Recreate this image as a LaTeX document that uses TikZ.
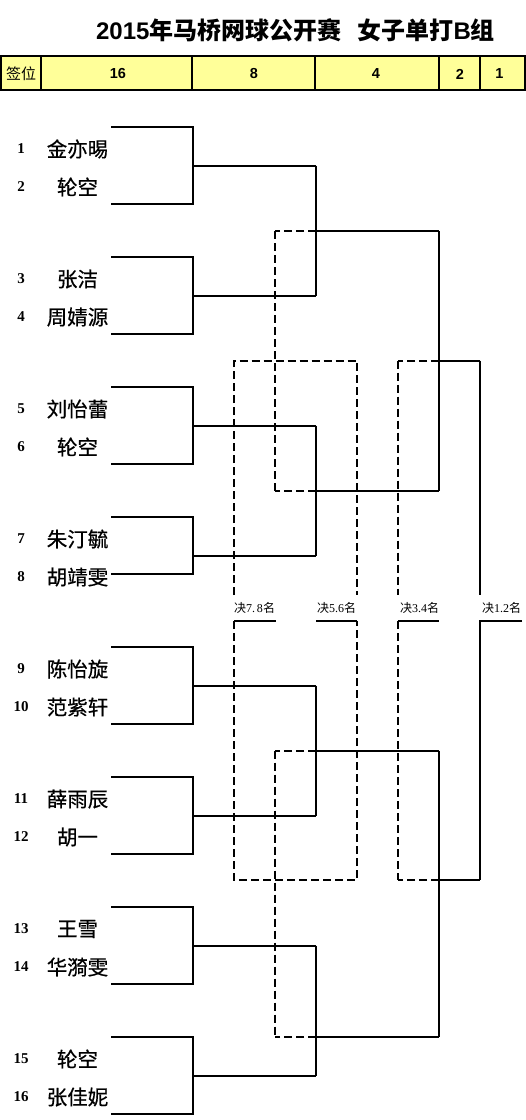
\documentclass[tikz,border=0pt]{standalone}
\usepackage{fontspec}
\setmainfont{Liberation Serif}
\newfontfamily\cjk{Noto Sans CJK SC}
\newfontfamily\cjkm[FakeBold=0.6]{Noto Sans CJK SC}
\newfontfamily\arial{Liberation Sans}
\definecolor{hdrfill}{HTML}{FFFF99}
\begin{document}
\begin{tikzpicture}[x=1pt,y=-1pt,
  win/.style={line width=2pt,line join=miter},
  lose/.style={line width=2pt,dash pattern=on 8pt off 4pt},
  grid/.style={line width=1.3pt},
  pname/.style={font=\cjkm\fontsize{20.5}{24}\selectfont,inner sep=0pt},
  seed/.style={font=\bfseries\fontsize{15}{17}\selectfont,inner sep=0pt},
  hdr/.style={font=\arial\bfseries\fontsize{14.5}{16}\selectfont,inner sep=0pt},
  rank/.style={font=\fontsize{12}{14}\selectfont,inner sep=0pt}]
\useasboundingbox (0,0) rectangle (526,1120);
% title
\node[inner sep=0pt] (title) at (295.5,30)
  {\fontsize{24}{26}\selectfont\arial\bfseries 2015{\cjk\bfseries 年马桥网球公开赛}\hspace{16pt}{\cjk\bfseries 女子单打}B{\cjk\bfseries 组}};
% header table
\fill[hdrfill] (1,56) rectangle (525,90);
\draw[grid] (1,56) rectangle (525,90);
\foreach \x in {41,192,315,439,480} \draw[grid] (\x,56) -- (\x,90);
\node[inner sep=0pt,font=\cjk\fontsize{15}{17}\selectfont] (hsig) at (21,73.5) {签位};
\node[hdr] (h16) at (118,74) {16};
\node[hdr] (h8) at (254,74) {8};
\node[hdr] (h4) at (376,74) {4};
\node[hdr] (h2) at (460,74) {2};
\node[hdr] (h1) at (499.5,74) {1};
% players
\foreach \n/\nm [count=\i from 0] in {1/金亦晹,2/轮空,3/张洁,4/周婧源,5/刘怡蕾,6/轮空,7/朱汀毓,8/胡靖雯,9/陈怡旋,10/范紫轩,11/薛雨辰,12/胡一,13/王雪,14/华漪雯,15/轮空,16/张佳妮}{
  \pgfmathsetmacro\yy{127+130*int(\i/2)+(mod(\i,2)==0 ? 22 : 60)}
  \node[seed] (s\n) at (21,\yy) {\n};
  \node[pname] (n\n) at (77.5,\yy) {\nm};
}
% first round brackets
\foreach \k in {0,...,7}{
  \pgfmathsetmacro\T{127+130*\k}
  \pgfmathsetmacro\B{\k==3 ? \T+57 : \T+76.5}
  \pgfmathsetmacro\M{\T+38.7}
  \coordinate (a\k) at (111,\T);
  \coordinate (b\k) at (193,\T);
  \coordinate (c\k) at (193,\B);
  \coordinate (d\k) at (111,\B);
  \coordinate (m\k) at (193,\M);
  \coordinate (q\k) at (316,\M);
  \draw[win] (a\k) -- (b\k) -- (c\k) -- (d\k);
  \draw[win] (m\k) -- (q\k);
}
% quarterfinals
\foreach \j/\Y in {0/231,1/490.7,2/750.7,3/1037.3}{
  \coordinate (r\j) at (316,\Y);
  \coordinate (rl\j) at (275,\Y);
  \coordinate (rr\j) at (439,\Y);
}
\draw[win] (q0) -- (q1);
\draw[win] (q2) -- (q3);
\draw[win] (q4) -- (q5);
\draw[win] (q6) -- (q7);
\foreach \j in {0,...,3}{
  \draw[win] (r\j) -- (rr\j);
  \draw[lose] (r\j) -- (rl\j);
}
\draw[lose] (rl0) -- (rl1);
\draw[lose] (rl2) -- (rl3);
% semifinals
\draw[win] (rr0) -- (rr1);
\draw[win] (rr2) -- (rr3);
\coordinate (sf1) at (439,360.7);
\coordinate (sf2) at (439,880);
\coordinate (f1) at (480,360.7);
\coordinate (f2) at (480,880);
\coordinate (l1) at (398,360.7);
\coordinate (l2) at (398,880);
\draw[win] (sf1) -- (f1);
\draw[win] (sf2) -- (f2);
\draw[lose] (sf1) -- (l1);
\draw[lose] (sf2) -- (l2);
% rank labels
\node[rank] (k78) at (254.5,608) {{\cjk 决}7.\,8{\cjk 名}};
\node[rank] (k56) at (336.7,608) {{\cjk 决}5.6{\cjk 名}};
\node[rank] (k34) at (419.5,608) {{\cjk 决}3.4{\cjk 名}};
\node[rank] (k12) at (501.5,608) {{\cjk 决}1.2{\cjk 名}};
% final
\coordinate (f1e) at (480,595);
\coordinate (f2e) at (480,621);
\coordinate (u12) at (522,621);
\draw[win] (f1) -- (f1e);
\draw[win] (u12) -- (f2e) -- (f2);
% 3/4 place
\coordinate (l1e) at (398,595);
\coordinate (l2e) at (398,621);
\coordinate (u34) at (439,621);
\draw[lose] (l1) -- (l1e);
\draw[lose] (l2e) -- (l2);
\draw[win] (l2e) -- (u34);
% 5-8 places
\coordinate (g1) at (234,360.7);
\coordinate (g2) at (357,360.7);
\coordinate (g1e) at (234,595);
\coordinate (g2e) at (357,595);
\coordinate (h1e) at (234,621);
\coordinate (h2e) at (357,621);
\coordinate (g3) at (234,880);
\coordinate (g4) at (357,880);
\coordinate (u78) at (275.7,621);
\coordinate (u56) at (316,621);
\draw[lose] (g1e) -- (g1) -- (g2) -- (g2e);
\draw[lose] (h1e) -- (g3) -- (g4) -- (h2e);
\draw[win] (h1e) -- (u78);
\draw[win] (u56) -- (h2e);
\end{tikzpicture}
\end{document}
